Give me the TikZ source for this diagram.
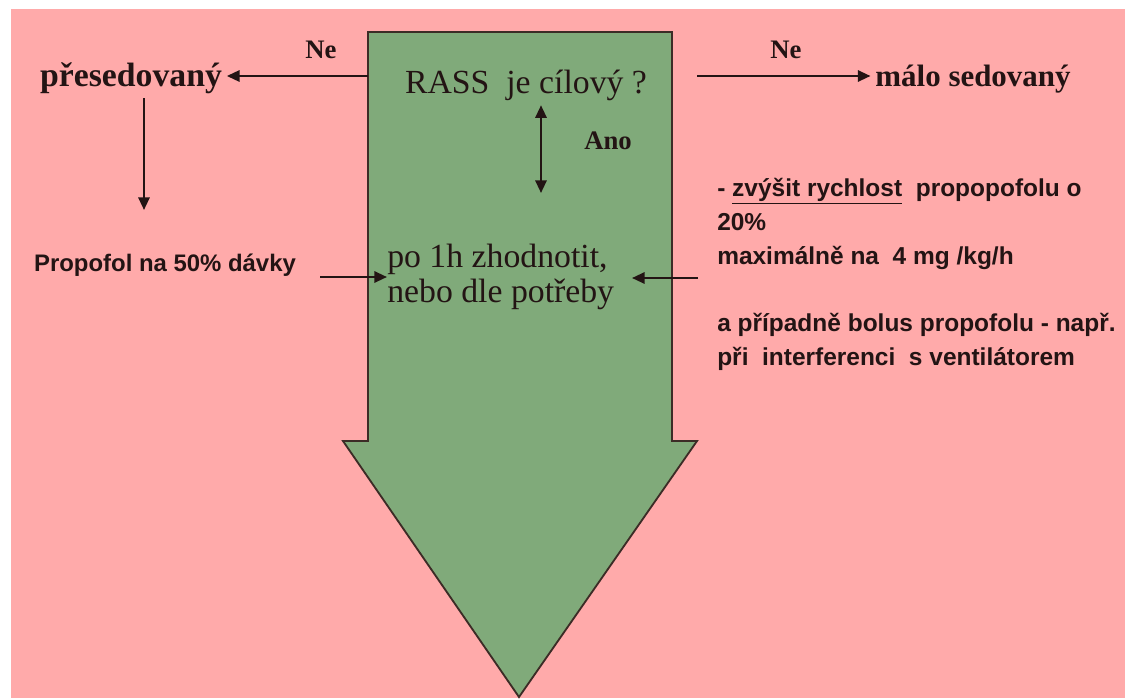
\documentclass[tikz,border=0pt]{standalone}
\usepackage{fontspec}
\setmainfont{Liberation Serif}
\setsansfont{Liberation Sans}
\usetikzlibrary{arrows.meta, positioning}
\definecolor{ruzova}{RGB}{255,170,170}
\definecolor{zelena}{RGB}{128,170,122}
\definecolor{obrys}{RGB}{60,44,38}
\definecolor{pismo}{RGB}{35,20,20}

\begin{document}
\begin{tikzpicture}[
                x=0.025cm, y=-0.025cm,
                every node/.style={text=pismo},
                velky/.style={font=\fontsize{24}{25}\selectfont, align=left},
                tucny/.style={font=\bfseries\fontsize{24}{25}\selectfont},
                popis/.style={font=\bfseries\fontsize{19}{20}\selectfont},
                pokyn/.style={font=\sffamily\bfseries\fontsize{17.4}{24}\selectfont, align=left},
                sipka/.style={-{Triangle[length=9pt, width=8pt]}, line width=1.6pt, draw=pismo},
                obousipka/.style={{Triangle[length=9pt, width=8pt]}-{Triangle[length=9pt, width=8pt]}, line width=1.6pt, draw=pismo}]
            % Pozadi
            \useasboundingbox (0,0) rectangle (1125,698);
            \fill[white] (0,0) rectangle (1125,698);
            \fill[ruzova] (11,9) rectangle (1125,698);

            % Velka sipka
            \draw[obrys, fill=zelena, line width=1.3pt] (368,32) -- (672,32) -- (672,441) -- (697,441)
                -- (519,697) -- (343,441) -- (368,441) -- cycle;

            % Texty
            \node[velky, anchor=base] (rass) at (526,93) {RASS~ je cílový ?};
            \node[velky, anchor=north west, inner sep=0pt] (po) at (387,244) {po 1h zhodnotit,\\nebo dle potřeby};
            \node[tucny, anchor=base] (pres) at (131,86) {přesedovaný};
            \node[tucny, font=\bfseries\fontsize{22}{24}\selectfont, anchor=base] (malo) at (973,86) {málo sedovaný};
            \node[popis, anchor=base] (neL) at (321,58) {Ne};
            \node[popis, anchor=base] (neP) at (786,58) {Ne};
            \node[popis, anchor=base] (ano) at (608,149) {Ano};
            \node[pokyn, font=\sffamily\bfseries\fontsize{17}{24}\selectfont, anchor=base] (propofol) at (165,271) {Propofol na 50\% dávky};
            \node[pokyn, anchor=north west, inner sep=0pt] (zvysit) at (717,178)
                {- \underline{zvýšit rychlost}~ propopofolu o\\20\%\\maximálně na~ 4 mg /kg/h\\[24pt]a případně bolus propofolu - např.\\při~ interferenci~ s ventilátorem};

            % Sipky
            \coordinate (levyOkraj) at (368,76);
            \coordinate (pravyStart) at (697,76);
            \coordinate (dolu) at (144,210);
            \coordinate (anoKonec) at (541,193);
            \coordinate (propKonec) at (320,277);
            \coordinate (zprava) at (698,278);
            \coordinate (zpravaHrot) at (632,278);
            \draw[sipka] (levyOkraj) -- (levyOkraj -| pres.east);
            \draw[sipka] (pravyStart) -- (pravyStart -| malo.west);
            \draw[sipka] (dolu |- pres.south) -- (dolu);
            \draw[obousipka] (anoKonec |- rass.south) -- (anoKonec);
            \draw[sipka] (propKonec) -- (propKonec -| po.west);
            \draw[sipka] (zprava) -- (zpravaHrot);

        \end{tikzpicture}
\end{document}
